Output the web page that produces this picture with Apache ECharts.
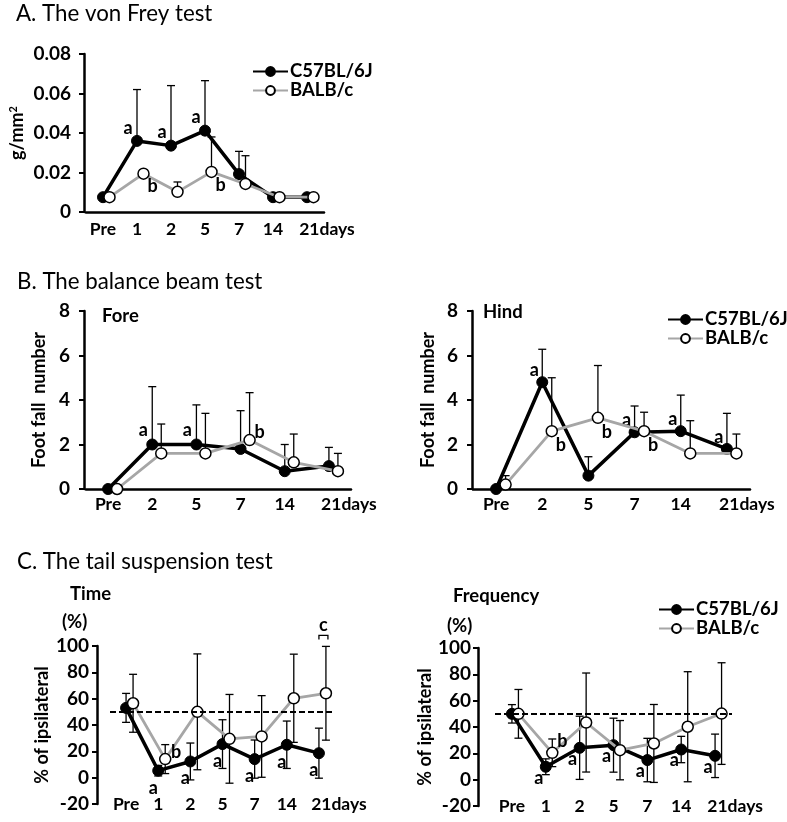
<!DOCTYPE html>
<html><head><meta charset="utf-8">
<script src="https://cdn.jsdelivr.net/npm/echarts@6/dist/echarts.min.js"></script>
<style>html,body{margin:0;padding:0;background:#fff}#c{width:787px;height:822px}</style>
</head><body><div id="c"></div>
<script>
// ---------- DATA ----------
const daysA = ['Pre','1','2','5','7','14','21days'];
const c57A = [0.0075,0.036,0.0336,0.0412,0.0192,0.0075,0.0075];
const c57AErr = [0,0.026,0.0304,0.0253,0.0115,0,0];
const balbA = [0.0075,0.0194,0.0102,0.0203,0.0142,0.0075,0.0075];
const balbAErr = [0,0,0.005,0.0177,0.0143,0,0];
const c57ALab = ['','a','a','a','','',''];
const balbALab = ['','b','','b','','',''];

const daysB = ['Pre','2','5','7','14','21days'];
const c57Fore = [0,2.0,2.0,1.8,0.8,1.03];
const c57ForeErr = [0,2.6,1.78,1.72,1.2,0.84];
const balbFore = [0,1.6,1.6,2.2,1.2,0.8];
const balbForeErr = [0,1.32,1.8,2.13,1.27,0.8];
const c57ForeLab = ['','a','a','','',''];
const balbForeLab = ['','','','b','',''];

const c57Hind = [0,4.8,0.6,2.55,2.6,1.8];
const c57HindErr = [0,1.48,0.85,1.18,1.62,1.6];
const balbHind = [0.2,2.6,3.2,2.6,1.6,1.6];
const balbHindErr = [0.4,2.4,2.35,0.85,1.47,0.87];
const c57HindLab = ['','a','','a','a','a'];
const balbHindLab = ['','b','b','b','',''];

const daysC = ['Pre','1','2','5','7','14','21days'];
const c57Time = [53,5.3,12.3,25.5,14.1,25,18.6];
const c57TimeErr = [11,4,14,18.5,14.5,18,19];
const balbTime = [56.5,14.1,50,29.5,31.3,60.3,64.1];
const balbTimeErr = [22,11,44,33.7,31,33.5,35.6];
const c57TimeLab = ['','a','a','a','a','a','a'];
const balbTimeLab = ['','b','','','','',''];
const timeSigLab = ['','','','','','','c'];

const c57Freq = [50,9.8,24.2,26.2,14.9,22.9,18.1];
const c57FreqErr = [7,6,24,20.5,16.5,10,16.5];
const balbFreq = [50,20.4,43.4,22.4,27.5,40.2,50.2];
const balbFreqErr = [18.5,10.5,37.6,22.5,29.6,41.8,38.6];
const c57FreqLab = ['','a','a','a','a','a','a'];
const balbFreqLab = ['','b','','','','',''];
const refLine = 50;

const names = ['C57BL/6J','BALB/c'];

// ---------- LAYOUT / STYLE ----------
const FONT = 'Lato';
const P = [
 {cats:daysA, c57:c57A, c57Err:c57AErr, balb:balbA, balbErr:balbAErr, c57Lab:c57ALab, balbLab:balbALab, both:false,
  left:86, top:54, width:238, height:158, dx:6.5, yOff:2, min:0, max:0.08, interval:0.02,
  yName:'{a|g/mm}{s|2}', nameGap:58, xLine:true, xMargin:8, yMargin:13, labA:[-9,-13], labB:[9,13]},
 {cats:daysB, c57:c57Fore, c57Err:c57ForeErr, balb:balbFore, balbErr:balbForeErr, c57Lab:c57ForeLab, balbLab:balbForeLab, both:false,
  left:86, top:311, width:265, height:178, dx:9, yOff:2, min:0, max:8, interval:2,
  yName:'Foot fall  number', nameGap:36, xLine:true, xMargin:6, yMargin:14, labA:[-9,-14], labB:[10,-8]},
 {cats:daysB, c57:c57Hind, c57Err:c57HindErr, balb:balbHind, balbErr:balbHindErr, c57Lab:c57HindLab, balbLab:balbHindLab, both:false,
  left:473, top:311, width:277, height:178, dx:9.5, yOff:1, min:0, max:8, interval:2,
  yName:'Foot fall  number', nameGap:35, xLine:true, xMargin:6, yMargin:14, labA:[-8,-12], labB:[9,14]},
 {cats:daysC, c57:c57Time, c57Err:c57TimeErr, balb:balbTime, balbErr:balbTimeErr, c57Lab:c57TimeLab, balbLab:balbTimeLab, both:true,
  left:110, top:646, width:225, height:158, dx:7, yOff:13, min:-20, max:100, interval:20,
  yName:'% of ipsilateral', nameGap:46, xLine:false, xMargin:-9, yMargin:8, labA:[-5,17], labB:[11,-7], ref:true, sig:timeSigLab},
 {cats:daysC, c57:c57Freq, c57Err:c57FreqErr, balb:balbFreq, balbErr:balbFreqErr, c57Lab:c57FreqLab, balbLab:balbFreqLab, both:true,
  left:495, top:648, width:237, height:158, dx:6.5, yOff:17, min:-20, max:100, interval:20,
  yName:'% of ipsilateral', nameGap:41, xLine:false, xMargin:-9, yMargin:7, labA:[-7,11], labB:[10,-12], ref:true}
];

const txt = (size, weight) => ({color:'#000', fontFamily:FONT, fontSize:size, fontWeight:weight});

function errRender(both){
  return function(params, api){
    const i = api.value(0), m = api.value(1), e = api.value(2);
    if (!e) return null;
    const hi = api.coord([i, m + e]);
    const lo = api.coord([i, both ? m - e : m]);
    const x = hi[0], w = 4;
    const st = {stroke:'#000', lineWidth:1.3};
    const ch = [
      {type:'line', shape:{x1:x, y1:hi[1], x2:x, y2:lo[1]}, style:st},
      {type:'line', shape:{x1:x-w, y1:hi[1], x2:x+w, y2:hi[1]}, style:st}
    ];
    if (both) ch.push({type:'line', shape:{x1:x-w, y1:lo[1], x2:x+w, y2:lo[1]}, style:st});
    return {type:'group', children:ch};
  };
}

const grids=[], xAxes=[], yAxes=[], series=[];
P.forEach((p) => {
  const g = grids.length;
  grids.push({left:p.left, top:p.top, width:p.width, height:p.height, outerBoundsMode:'none', containLabel:false});
  grids.push({left:p.left+p.dx, top:p.top, width:p.width, height:p.height, outerBoundsMode:'none', containLabel:false});
  xAxes.push({type:'category', gridIndex:g, data:p.cats, boundaryGap:true,
    axisLine:{show:p.xLine, lineStyle:{color:'#000', width:2.5}}, axisTick:{show:false}, splitLine:{show:false},
    axisLabel:Object.assign(txt(17.5,'bold'), {margin:p.xMargin, interval:0, hideOverlap:false,
      formatter: v => v.indexOf('days') >= 0 ? '{d|' + v + '}' : v,
      rich:{d:Object.assign(txt(17.5,'bold'), {padding:[0,0,0,40]})}})});
  xAxes.push({type:'category', gridIndex:g+1, data:p.cats, boundaryGap:true, show:false});
  yAxes.push({type:'value', gridIndex:g, min:p.min, max:p.max, interval:p.interval, offset:p.yOff,
    axisLine:{show:true, lineStyle:{color:'#000', width:2.5}},
    axisTick:{show:true, inside:false, length:5, lineStyle:{color:'#000', width:2}},
    splitLine:{show:false},
    axisLabel:Object.assign(txt(19,'bold'), {margin:p.yMargin,
      formatter: v => (p.max < 1 && v !== 0) ? v.toFixed(2) : String(v)}),
    name:p.yName, nameLocation:'middle', nameGap:p.nameGap,
    nameTextStyle:Object.assign(txt(18,'bold'), {rich:{
      a:txt(18,'bold'), s:Object.assign(txt(11,'bold'), {verticalAlign:'top', padding:[0,0,6,0]})}})});
  yAxes.push({type:'value', gridIndex:g+1, min:p.min, max:p.max, interval:p.interval, show:false});

  const mk = (vals, labs, off) => vals.map((v,i) => labs[i]
    ? {value:v, label:{show:true, formatter:labs[i], position:'inside', offset:off}} : v);
  const lab = Object.assign(txt(18,'bold'), {show:false});

  series.push({type:'custom', xAxisIndex:g, yAxisIndex:g, z:2, silent:true, renderItem:errRender(p.both),
    encode:{x:0, y:1}, data:p.c57.map((v,i)=>[i, v, p.c57Err[i]])});
  series.push({type:'custom', xAxisIndex:g+1, yAxisIndex:g+1, z:2, silent:true, renderItem:errRender(p.both),
    encode:{x:0, y:1}, data:p.balb.map((v,i)=>[i, v, p.balbErr[i]])});
  const c57s = {type:'line', name:names[0], xAxisIndex:g, yAxisIndex:g, z:3,
    symbol:'circle', symbolSize:11, showAllSymbol:true,
    lineStyle:{color:'#000', width:3.5}, itemStyle:{color:'#000', borderColor:'#000', borderWidth:1},
    label:lab, emphasis:{disabled:true}, data:mk(p.c57, p.c57Lab, p.labA)};
  if (p.ref) c57s.markLine = {silent:true, symbol:'none', label:{show:false},
    lineStyle:{color:'#000', width:2, type:[6,3]}, data:[{yAxis:refLine}]};
  series.push(c57s);
  series.push({type:'line', name:names[1], xAxisIndex:g+1, yAxisIndex:g+1, z:4,
    symbol:'circle', symbolSize:11, showAllSymbol:true,
    lineStyle:{color:'#a6a6a6', width:2.8}, itemStyle:{color:'#fff', borderColor:'#000', borderWidth:1.5},
    label:lab, emphasis:{disabled:true}, data:mk(p.balb, p.balbLab, p.labB)});
  if (p.sig) {
    const sdata = [];
    p.sig.forEach((s,i) => { if (s) sdata.push([i, Math.max(p.c57[i]+p.c57Err[i], p.balb[i]+p.balbErr[i]), s]); });
    series.push({type:'custom', xAxisIndex:g, yAxisIndex:g, z:5, silent:true, encode:{x:0, y:1},
      data:sdata, renderItem:(params, api) => {
        const c = api.coord([api.value(0), api.value(1)]);
        const x1 = c[0], x2 = c[0] + p.dx + 2, yb = c[1] - 7, yt = c[1] - 11;
        return {type:'group', children:[
          {type:'polyline', shape:{points:[[x1,yb],[x1,yt],[x2,yt],[x2,yb]]}, style:{stroke:'#000', lineWidth:1.3, fill:null}},
          {type:'text', style:Object.assign({text:sdata[params.dataIndex][2], x:(x1+x2)/2, y:yt-1,
            align:'center', verticalAlign:'bottom', fill:'#000', font:'bold 18px ' + FONT})}
        ]};
      }});
  }
});

const legendBase = {data:names, orient:'vertical', itemWidth:35, itemHeight:11, itemGap:0, selectedMode:false,
  padding:0, textStyle:Object.assign(txt(18.5,'bold'), {lineHeight:17, padding:[0,0,0,-3]})};
const legends = [
  Object.assign({left:252, top:62}, legendBase),
  Object.assign({left:667, top:310}, legendBase),
  Object.assign({left:658, top:600}, legendBase)
];

const tt = (text, left, top, size, weight) => ({text, left, top, padding:0, textStyle:txt(size, weight)});
const titles = [
  tt('A. The von Frey test', 16, 3, 22.3, 'normal'),
  tt('B. The balance beam test', 17, 271, 22.3, 'normal'),
  tt('C. The tail suspension test', 17, 551, 22.3, 'normal'),
  tt('Fore', 102, 307, 18.5, 'bold'),
  tt('Hind', 483, 303, 18.5, 'bold'),
  tt('Time', 70, 585, 18.5, 'bold'),
  tt('(%)', 62, 613, 18.5, 'bold'),
  tt('Frequency', 453, 587, 18.5, 'bold'),
  tt('(%)', 447, 617, 18.5, 'bold')
];

const chart = echarts.init(document.getElementById('c'), null, {renderer:'canvas'});
chart.setOption({
  backgroundColor:'#fff', animation:false,
  textStyle:{fontFamily:FONT},
  title:titles, legend:legends, tooltip:{show:false},
  grid:grids, xAxis:xAxes, yAxis:yAxes, series:series
});
</script></body></html>
